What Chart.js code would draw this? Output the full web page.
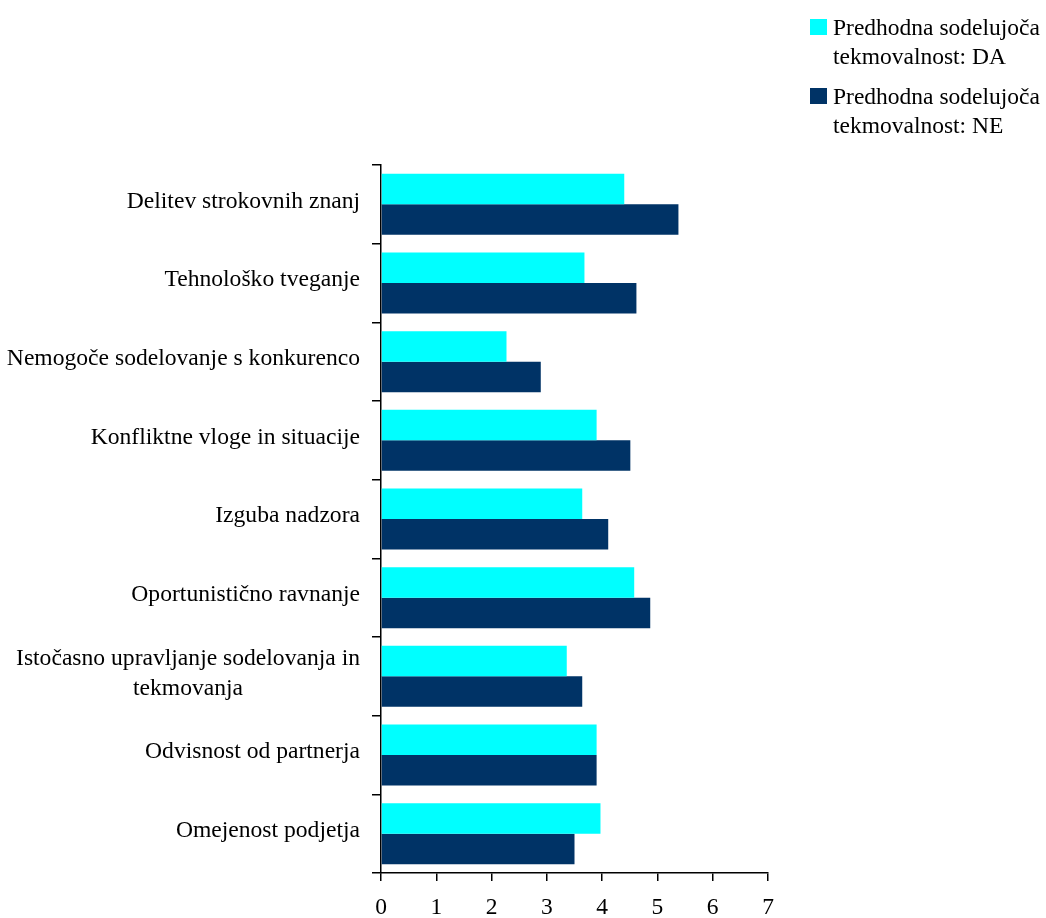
<!DOCTYPE html>
<html lang="sl">
<head>
<meta charset="utf-8">
<title>Ovire pri sodelujoči tekmovalnosti</title>
<script src="https://cdn.jsdelivr.net/npm/chart.js@4"></script>
<style>
  body { margin: 0; background: #fff; }
  #wrap { position: relative; width: 1046px; height: 918px; }
  #legend {
    position: absolute; left: 810px; top: 13px;
    font: 23.5px "Liberation Serif", "Times New Roman", serif; color: #000;
  }
  .item { display: flex; align-items: flex-start; line-height: 29px; margin-bottom: 11px; }
  .box { width: 17px; height: 16px; margin-top: 6px; margin-right: 6px; flex: none; }
</style>
</head>
<body>
<div id="wrap">
  <canvas id="chart" width="1046" height="918"></canvas>
  <div id="legend"></div>
</div>
<script>
const categories = [
  "Delitev strokovnih znanj",
  "Tehnološko tveganje",
  "Nemogoče sodelovanje s konkurenco",
  "Konfliktne vloge in situacije",
  "Izguba nadzora",
  "Oportunistično ravnanje",
  ["Istočasno upravljanje sodelovanja in", "tekmovanja"],
  "Odvisnost od partnerja",
  "Omejenost podjetja"
];
const seriesNames = [
  ["Predhodna sodelujoča", "tekmovalnost: DA"],
  ["Predhodna sodelujoča", "tekmovalnost: NE"]
];
const valuesDA = [4.40, 3.68, 2.27, 3.90, 3.64, 4.58, 3.36, 3.90, 3.97];
const valuesNE = [5.38, 4.62, 2.89, 4.51, 4.11, 4.87, 3.64, 3.90, 3.50];
const xTickValues = [0, 1, 2, 3, 4, 5, 6, 7];
const colors = ["#00ffff", "#003366"];

const FONT = "'Liberation Serif', 'Times New Roman', serif";

// legend built from the series names
document.getElementById("legend").innerHTML = seriesNames.map((name, i) =>
  `<div class="item"><span class="box" style="background:${colors[i]}"></span><span>${name.join("<br>")}</span></div>`
).join("");

// category labels: block right-aligned to the axis, lines centred within it
const yLabels = {
  id: "yLabels",
  afterDraw(chart) {
    const ctx = chart.ctx;
    const y = chart.scales.y;
    ctx.save();
    ctx.font = "23.6px " + FONT;
    ctx.fillStyle = "#000";
    ctx.textAlign = "center";
    ctx.textBaseline = "middle";
    categories.forEach((label, i) => {
      const lines = Array.isArray(label) ? label : [label];
      const w = Math.max(...lines.map(l => ctx.measureText(l).width));
      const cx = y.right - 21 - w / 2;
      const cy = y.getPixelForValue(i) - 3;
      lines.forEach((line, j) => {
        ctx.fillText(line, cx, cy + (j - (lines.length - 1) / 2) * 30);
      });
    });
    ctx.restore();
  }
};

new Chart(document.getElementById("chart"), {
  type: "bar",
  data: {
    labels: categories,
    datasets: [
      { label: seriesNames[0].join(" "), data: valuesDA, backgroundColor: colors[0] },
      { label: seriesNames[1].join(" "), data: valuesNE, backgroundColor: colors[1] }
    ]
  },
  options: {
    indexAxis: "y",
    responsive: false,
    animation: false,
    layout: { padding: { top: 165, right: 278, bottom: 0, left: 0 } },
    datasets: { bar: { barPercentage: 1, categoryPercentage: 0.775, borderWidth: 0 } },
    plugins: { legend: { display: false }, tooltip: { enabled: false } },
    scales: {
      x: {
        min: 0,
        max: 7,
        afterBuildTicks: (scale) => { scale.ticks = xTickValues.map(v => ({ value: v })); },
        afterFit: (scale) => { scale.height = 45; },
        border: { color: "#000", width: 1.5 },
        grid: { drawOnChartArea: false, drawTicks: true, tickLength: 8, color: "#000", lineWidth: 1.5 },
        ticks: { color: "#000", padding: 13, font: { family: FONT, size: 23.5 } }
      },
      y: {
        afterFit: (scale) => { scale.width = 381; },
        border: { color: "#000", width: 1.5 },
        grid: { drawOnChartArea: false, drawTicks: true, tickLength: 9, color: "#000", lineWidth: 1.5 },
        ticks: { display: false }
      }
    }
  },
  plugins: [yLabels]
});
</script>
</body>
</html>
